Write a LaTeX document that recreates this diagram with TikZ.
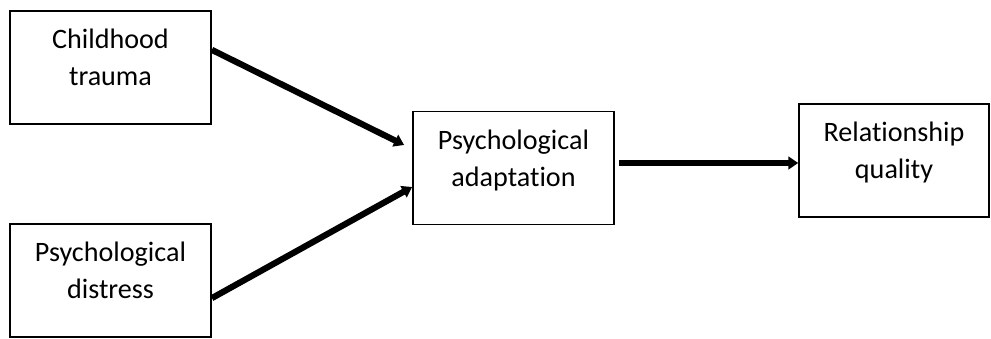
\documentclass[tikz,border=0pt]{standalone}
\usepackage{fontspec}
\setmainfont[Ligatures=CommonOff]{Carlito}
\usetikzlibrary{calc}
\usetikzlibrary{arrows.meta}
\tikzstyle{varbox} = [draw, rectangle, line width=1.1pt, minimum width=5.03cm, minimum height=2.82cm, align=center, font=\fontsize{20pt}{26.5pt}\selectfont, text depth=0.5cm]
\tikzstyle{effect} = [line width=4.4pt, -{Triangle[length=7pt, width=9pt]}]

\begin{document}
\begin{tikzpicture}[x=0.025cm, y=-0.025cm]
  \useasboundingbox (0,0) rectangle (991,339);

  \node[varbox] (trauma) at (110.5,67.5) {Childhood\\trauma};
  \node[varbox] (distress) at (110.5,280.5) {Psychological\\distress};
  \node[varbox] (adapt) at (513.5,168) {Psychological\\adaptation};
  \node[varbox, minimum width=4.75cm] (quality) at (894,160.5) {Relationship\\quality};

  \draw[effect] ([yshift=0.44cm]trauma.east) -- ([xshift=-0.2cm, yshift=0.575cm]adapt.west);
  \draw[effect] ([yshift=-0.44cm]distress.east) -- ([yshift=-0.475cm]adapt.west);
  \draw[effect] ([xshift=0.1cm, yshift=0.125cm]adapt.east) -- ([yshift=0.125cm]adapt.east -| quality.west);
\end{tikzpicture}
\end{document}
